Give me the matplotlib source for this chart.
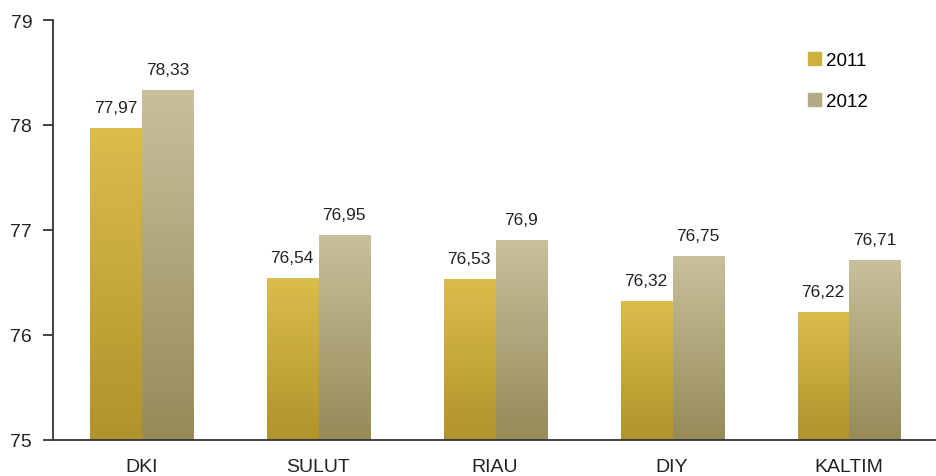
import matplotlib.pyplot as plt
import numpy as np
from matplotlib.colors import LinearSegmentedColormap
from matplotlib.patches import Patch

plt.rcParams['font.family'] = ['Liberation Sans', 'DejaVu Sans']

provinces = ["DKI", "SULUT", "RIAU", "DIY", "KALTIM"]
val_2011 = [77.97, 76.54, 76.53, 76.32, 76.22]
val_2012 = [78.33, 76.95, 76.9, 76.75, 76.71]
labels_2011 = ["77,97", "76,54", "76,53", "76,32", "76,22"]
labels_2012 = ["78,33", "76,95", "76,9", "76,75", "76,71"]

cmap_2011 = LinearSegmentedColormap.from_list("c11", ["#b0932a", "#dbbd4c"])
cmap_2012 = LinearSegmentedColormap.from_list("c12", ["#968a58", "#c8c09c"])

fig = plt.figure(figsize=(9.37, 4.77), dpi=100)
ax = fig.add_axes([53 / 937, 36 / 477, 884 / 937, 420 / 477])

x = np.arange(len(provinces))
w = 0.294
grad = np.linspace(0, 1, 256).reshape(-1, 1)

def gradient_bars(xs, vals, cmap):
    bars = ax.bar(xs, [v - 75 for v in vals], w, bottom=75, color='none', edgecolor='none')
    for b in bars:
        x0, y0 = b.get_x(), b.get_y()
        im = ax.imshow(grad, cmap=cmap, origin='lower', aspect='auto',
                       extent=[x0, x0 + b.get_width(), y0, y0 + b.get_height()], zorder=2)
        im.set_clip_path(b)
    return bars

b1 = gradient_bars(x - w / 2 + 0.005, val_2011, cmap_2011)
b2 = gradient_bars(x + w / 2 + 0.005, val_2012, cmap_2012)

for xi, v, t in zip(x - w / 2, val_2011, labels_2011):
    ax.text(xi, v + 0.125, t, ha='center', va='bottom', fontsize=12.5, color='#222222')
for xi, v, t in zip(x + w / 2, val_2012, labels_2012):
    ax.text(xi, v + 0.125, t, ha='center', va='bottom', fontsize=12.5, color='#222222')

ax.set_xlim(-0.5, 4.5)
ax.set_ylim(75, 79)
ax.set_yticks([75, 76, 77, 78, 79])
ax.set_xticks(x)
ax.set_xticklabels(provinces)
ax.tick_params(axis='x', length=0, pad=13, labelsize=14, colors='#222222')
ax.tick_params(axis='y', length=7, width=1.2, direction='out', pad=8, labelsize=14, colors='#222222')
for s in ['top', 'right']:
    ax.spines[s].set_visible(False)
ax.spines['left'].set_linewidth(1.3)
ax.spines['bottom'].set_linewidth(1.3)
ax.spines['left'].set_color('#333333')
ax.spines['bottom'].set_color('#333333')

handles = [Patch(color='#cdb03e', label='2011'), Patch(color='#b3ab84', label='2012')]
ax.legend(handles=handles, loc='upper left', bbox_to_anchor=(0.835, 0.965), frameon=False,
          fontsize=13.5, handlelength=0.7, handleheight=0.7, handletextpad=0.25, labelspacing=1.3)

fig.savefig("out.png", dpi=100)
